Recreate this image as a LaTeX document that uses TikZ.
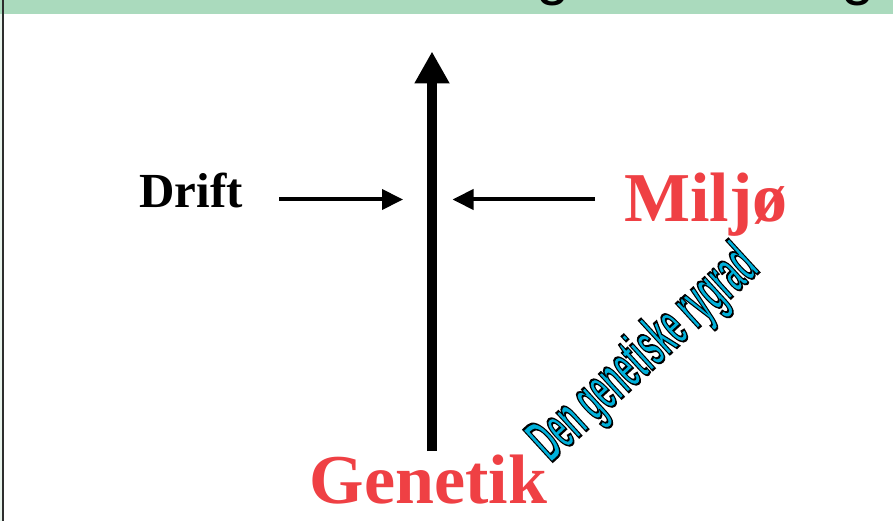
\documentclass[tikz,border=0pt]{standalone}
\usepackage{fontspec}
\setmainfont{Liberation Serif}
\newfontfamily\sansfam{Liberation Sans}
\usepackage{graphicx}
\usetikzlibrary{arrows.meta}
\definecolor{bandgreen}{RGB}{170,218,189}
\definecolor{paleg}{RGB}{232,244,236}
\definecolor{txtred}{RGB}{239,64,68}
\definecolor{spinecyan}{RGB}{0,176,218}
\definecolor{edgegray}{RGB}{45,45,45}
\newcommand{\outlinetxt}[1]{\special{pdf:literal direct 2 Tr 2.2 w 0 0 0 RG}#1\special{pdf:literal direct 0 Tr}}
\begin{document}
\begin{tikzpicture}[x=1pt,y=-1pt,
  lbl/.style={inner sep=0pt, anchor=base},
  push/.style={line width=4pt, -{Triangle[length=21pt,width=20pt]}},
  spine/.style={line width=10pt, -{Triangle[length=32pt,width=33pt]}}]
\useasboundingbox (0,0) rectangle (893,521);
\fill[white] (0,0) rectangle (893,521);
\fill[paleg] (0,0) rectangle (2.2,521);
\fill[bandgreen] (0,0) rectangle (893,13.7);
\begin{scope}
  \clip (0,0) rectangle (893,13.7);
  \node[lbl, font=\sansfam\fontsize{60}{60}\selectfont] (g1) at (553,-6.5) {g};
  \node[lbl, font=\sansfam\fontsize{60}{60}\selectfont] (g2) at (858,-6.5) {g};
\end{scope}
\draw[line width=1.3pt, edgegray] (2.9,0) -- (2.9,521);
% labels
\node[lbl, font=\bfseries\fontsize{49}{49}\selectfont] (drift) at (191,208) {Drift};
\node[lbl, text=txtred, font=\bfseries\fontsize{70}{70}\selectfont] (miljo) at (706,222) {Miljø};
\node[lbl, text=txtred, font=\bfseries\fontsize{70}{70}\selectfont] (genetik) at (428.5,503) {Genetik};
\node[lbl, rotate=42.5, text=spinecyan, font=\sansfam\bfseries\fontsize{63}{63}\selectfont] (ryg) at (656,367)
  {\scalebox{0.445}[1]{\outlinetxt{Den genetiske rygrad}}};
% arrows
\coordinate (dA) at (279,199.5);
\coordinate (dB) at (403,199.5);
\coordinate (mA) at (595,199.5);
\coordinate (mB) at (452.5,199.5);
\coordinate (sA) at (432,451);
\coordinate (sB) at (432,51.5);
\draw[push] (dA) -- (dB);
\draw[push] (mA) -- (mB);
\draw[spine] (sA) -- (sB);
\end{tikzpicture}
\end{document}
